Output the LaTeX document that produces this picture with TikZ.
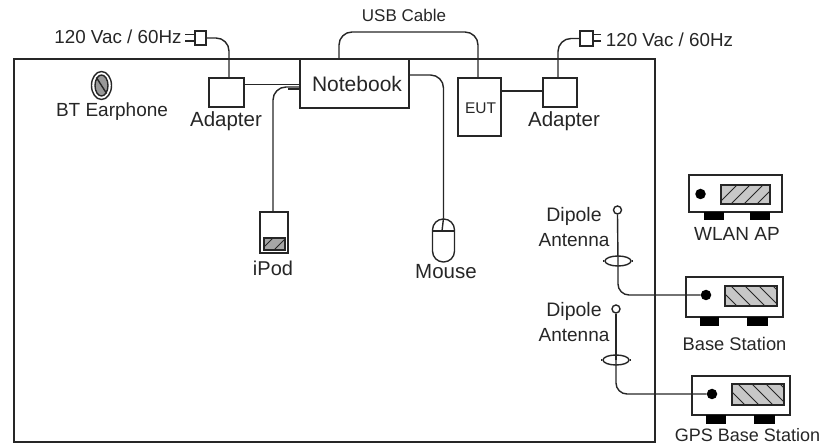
\documentclass[tikz,border=0pt]{standalone}
\usepackage{fontspec}
\setmainfont{Liberation Sans}
\usetikzlibrary{shapes.geometric,calc}
\newcommand{\fs}[1]{\fontsize{#1}{#1}\selectfont}
\tikzset{
  line/.style={line width=1.4pt,draw=black!85},
  cable/.style={line,rounded corners=13pt},
  boxn/.style={line,rectangle,inner sep=0pt,outer sep=0pt,fill=white},
  lab/.style={inner sep=0pt,outer sep=0pt,text=black!85,anchor=center},
  foot/.style={fill=black,draw=none,rectangle,inner sep=0pt},
  hatch/.style={line width=1pt,draw=black!85},
  scr/.style={boxn,fill=black!22},
  dotn/.style={fill=black,draw=none,circle,inner sep=0pt,minimum size=10.5pt},
  tail/.style={line,ellipse,fill=white,inner sep=0pt,minimum width=26pt,minimum height=10pt},
  ant/.style={line,circle,fill=white,inner sep=0pt,minimum size=8pt}
}
% name, x1, y1, x2, y2, style
\newcommand{\bx}[6]{\node[boxn,#6,minimum width={(#4)-(#2)},minimum height={(#5)-(#3)}] (#1) at ({((#2)+(#4))/2},{((#3)+(#5))/2}) {};}
\newcommand{\hatchne}[4]{\begin{scope}\clip (#1,#2) rectangle (#3,#4);
  \foreach \k in {0,1,2,3,4}{\draw[hatch] ({#1+\k*13-3},#4) -- ++(20,-20);}
  \end{scope}\draw[line] (#1,#2) rectangle (#3,#4);}
\newcommand{\hatchse}[4]{\begin{scope}\clip (#1,#2) rectangle (#3,#4);
  \foreach \k in {0,1,2,3,4}{\draw[hatch] ({#1+\k*14-8},#2) -- ++(21,21);}
  \end{scope}\draw[line] (#1,#2) rectangle (#3,#4);}
\begin{document}
\begin{tikzpicture}[x=1pt,y=-1pt]
\useasboundingbox (0,0) rectangle (823,446);
% room
\draw[line] (14,59) rectangle (655,442);
% boxes
\bx{adl}{209}{78}{244}{107}{}
\bx{adr}{543}{78}{577}{107}{}
\bx{nb}{300}{59}{409}{108}{}
\bx{eut}{458}{78}{501}{136}{}
\bx{ipod}{260}{212}{288}{253}{}
\bx{pll}{195}{31}{206}{45}{}
\bx{plr}{580}{31}{593}{46}{}
% power plugs
\coordinate (pl1) at (185,34.5); \coordinate (pl2) at (185,41);
\coordinate (pr1) at (601,34.5); \coordinate (pr2) at (601,41);
\draw[line] (pl1) -- (pll.west |- pl1);
\draw[line] (pl2) -- (pll.west |- pl2);
\draw[line] (pr1) -- (plr.east |- pr1);
\draw[line] (pr2) -- (plr.east |- pr2);
\coordinate (adlt) at (229,78); \coordinate (adrt) at (558,78);
\draw[cable] (pll.east) -| (adlt);
\draw[cable] (plr.west) -| (adrt);
% links
\coordinate (adln) at (244,84.5);
\draw[line] (adln) -- (nb.west |- adln);
\coordinate (eutr) at (501,91);
\draw[line] (eutr) -- (adr.west |- eutr);
% USB
\coordinate (usba) at (339,59); \coordinate (usbb) at (478,78); \coordinate (usbc) at (339,32);
\draw[cable] (usba) -- (usbc) -| (usbb);
% iPod cable
\coordinate (ipa) at (300,87); \coordinate (ipb) at (300,89); \coordinate (ipc) at (273,212);
\draw[cable] (ipa) -| (ipc);
\draw[line] (ipb) -- (288,89);
% mouse
\coordinate (msa) at (409,75);
\node[line,rectangle,rounded corners=10.9pt,inner sep=0pt,minimum width=22pt,minimum height=43pt] (mouse) at (443.5,240.5) {};
\draw[cable] (msa) -| (mouse.north);
\draw[line] (432.5,231) -- (454.5,231);
\draw[line] (442,231) -- (mouse.north);
% iPod screen
\fill[black!35] (264,238) rectangle (285,250);
\hatchne{264}{238}{285}{250}
% earphone
\node[line,ellipse,inner sep=0pt,minimum width=20pt,minimum height=28pt] (ear) at (101.5,85.5) {};
\node[line,ellipse,inner sep=0pt,minimum width=13pt,minimum height=21pt,fill=black!40] (eari) at (101.5,85.5) {};
\draw[line] (eari.north west) -- (eari.south east);
% stations
\bx{ap}{689}{175}{782}{212}{}
\bx{bs}{686}{277}{783}{317}{}
\bx{gps}{692}{376}{790}{415}{}
\bx{apf1}{704}{212}{724}{220}{foot}
\bx{apf2}{750}{212}{770}{220}{foot}
\bx{bsf1}{700}{317}{719}{326}{foot}
\bx{bsf2}{747}{317}{768}{326}{foot}
\bx{gpf1}{706}{415}{726}{424}{foot}
\bx{gpf2}{754}{415}{775}{424}{foot}
\bx{aps}{721}{185}{770}{204}{scr}
\bx{bss}{725}{286}{777}{306}{scr}
\bx{gps2}{732}{384}{784}{405}{scr}
\hatchne{721}{185}{770}{204}
\hatchse{725}{286}{777}{306}
\hatchse{732}{384}{784}{405}
\node[dotn] (apd) at (700.5,194) {};
\node[dotn] (bsd) at (706,295) {};
\node[dotn] (gpd) at (712,394) {};
% antennas
\node[ant] (a1) at (617.5,210) {};
\node[ant] (a2) at (616,309) {};
\node[tail] (t1) at (618,261) {};
\node[tail] (t2) at (616,360) {};
\coordinate (t1l) at (603,261); \coordinate (t1r) at (633,261);
\coordinate (t2l) at (601,360); \coordinate (t2r) at (631,360);
\draw[line] (t1l) -- (t1.west); \draw[line] (t1r) -- (t1.east);
\draw[line] (t2l) -- (t2.west); \draw[line] (t2r) -- (t2.east);
\draw[line] (a1.south) -- (t1.center);
\draw[line] (a2.south) -- (t2.center);
\draw[cable,rounded corners=11pt] (t1.center) |- (bsd);
\draw[cable,rounded corners=11pt] (t2.center) |- (gpd);
% labels
\node[lab,font=\fs{18.8}] (v1) at (118,37) {120 Vac / 60Hz};
\node[lab,font=\fs{18.8}] (v2) at (669.5,40) {120 Vac / 60Hz};
\node[lab,font=\fs{17}] (usb) at (404,15) {USB Cable};
\node[lab,font=\fs{19}] (bt) at (112,112) {BT Earphone};
\node[lab,font=\fs{20.5}] (la) at (226,121) {Adapter};
\node[lab,font=\fs{20.5}] (lb) at (564,121) {Adapter};
\node[lab,font=\fs{21}] (ln) at (357,83.5) {Notebook};
\node[lab,font=\fs{15.5}] (le) at (480.5,108) {EUT};
\node[lab,font=\fs{20}] (li) at (273,268) {iPod};
\node[lab,font=\fs{20.5}] (lm) at (446,272) {Mouse};
\node[lab,font=\fs{19.5}] (d1) at (574,216) {Dipole};
\node[lab,font=\fs{19}] (e1) at (574,240) {Antenna};
\node[lab,font=\fs{19.5}] (d2) at (574,311) {Dipole};
\node[lab,font=\fs{19}] (e2) at (574,335) {Antenna};
\node[lab,font=\fs{19}] (w) at (737,234) {WLAN AP};
\node[lab,font=\fs{18.3}] (b) at (734.5,344) {Base Station};
\node[lab,font=\fs{18}] (g) at (747.5,435) {GPS Base Station};
\end{tikzpicture}
\end{document}
